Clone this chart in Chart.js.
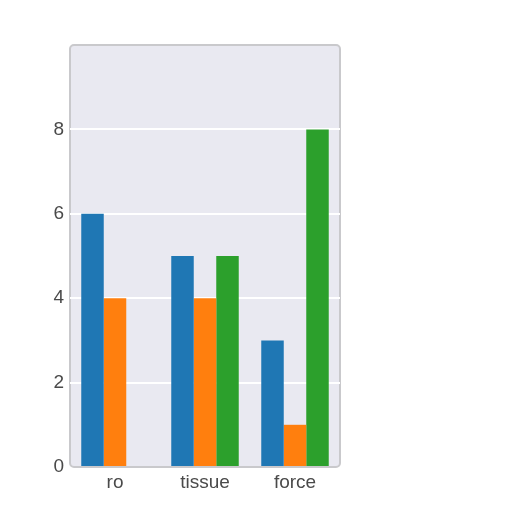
<!DOCTYPE html>
<html>
<head>
<meta charset="utf-8">
<script src="https://cdn.jsdelivr.net/npm/chart.js@4"></script>
<style>
  body { margin: 0; background: #ffffff; }
  #chart { display: block; }
</style>
</head>
<body>
<canvas id="chart" width="512" height="512"></canvas>
<script>
const categories = ["ro", "tissue", "force"];
const blueValues = [6, 5, 3];
const orangeValues = [4, 4, 1];
const greenValues = [0, 5, 8];
const yTicks = [0, 2, 4, 6, 8];

// paint the grey plot panel with a rounded frame behind the bars
const panelBackground = {
    id: "panelBackground",
    beforeDraw(chart) {
        const { ctx, chartArea } = chart;
        const { left, top, right, bottom } = chartArea;
        ctx.save();
        ctx.fillStyle = "#e9e9f1";
        ctx.strokeStyle = "#c9c9cc";
        ctx.lineWidth = 2;
        ctx.beginPath();
        ctx.roundRect(left, top, right - left, bottom - top, 4);
        ctx.fill();
        ctx.stroke();
        ctx.restore();
    }
};

new Chart("chart", {
    type: "bar",
    data: {
        labels: categories,
        datasets: [
            { label: "blue", data: blueValues, backgroundColor: "#1f77b4" },
            { label: "orange", data: orangeValues, backgroundColor: "#ff7f0e" },
            { label: "green", data: greenValues, backgroundColor: "#2ca02c" }
        ]
    },
    options: {
        responsive: false,
        animation: false,
        layout: { padding: { left: 0, top: 45, right: 172, bottom: 0 } },
        plugins: {
            legend: { display: false },
            tooltip: { enabled: false }
        },
        datasets: {
            bar: { categoryPercentage: 0.75, barPercentage: 1.0 }
        },
        scales: {
            x: {
                grid: { display: false, drawTicks: false },
                border: { display: false },
                ticks: {
                    padding: 4,
                    color: "#4a4a4a",
                    font: { family: "'Liberation Sans', Arial, sans-serif", size: 19 }
                },
                afterFit: scale => { scale.height = 45; }
            },
            y: {
                min: 0,
                max: 10,
                afterBuildTicks: scale => {
                    scale.ticks = yTicks.concat([10]).map(v => ({ value: v }));
                },
                grid: {
                    color: ctx => (ctx.tick && (ctx.tick.value === 0 || ctx.tick.value === 10)) ? "rgba(0,0,0,0)" : "#ffffff",
                    lineWidth: 2,
                    drawTicks: false
                },
                border: { display: false },
                ticks: {
                    padding: 6,
                    color: "#4a4a4a",
                    font: { family: "'Liberation Sans', Arial, sans-serif", size: 19 },
                    callback: v => (yTicks.includes(v) ? v : "")
                },
                afterFit: scale => { scale.width = 70; }
            }
        }
    },
    plugins: [panelBackground]
});
</script>
</body>
</html>
